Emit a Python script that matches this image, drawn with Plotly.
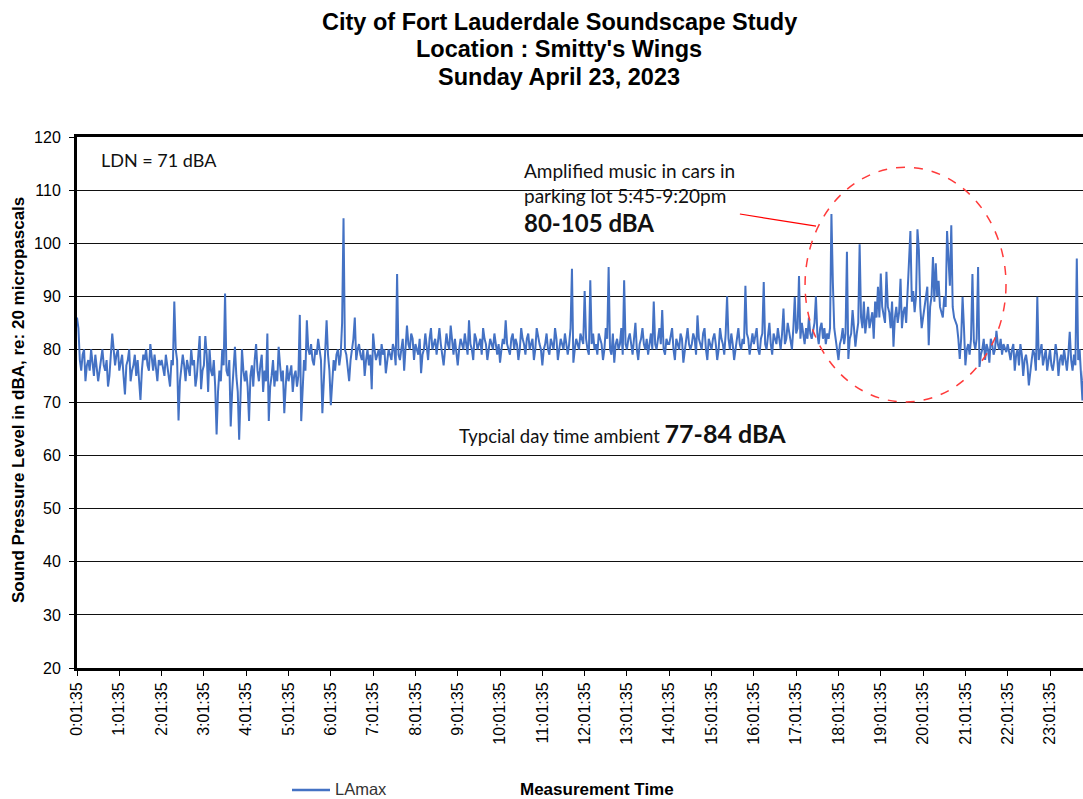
import plotly.graph_objects as go

# ---- data: LAmax readings (dBA), 2-minute steps starting 0:01:35, one row per hour ----
hour_00 = [86, 84, 78, 76, 79, 80, 74, 77, 78, 76, 80, 78, 75, 79, 77, 74, 76, 78, 80, 77, 76, 78, 73, 75, 79, 83, 80, 77, 79, 80]
hour_01 = [76, 78, 79, 75, 71.5, 77, 78, 80, 74, 76, 77, 79, 75, 78, 73, 70.5, 76, 79, 78, 80, 77, 76, 81, 78, 76, 79, 77, 74, 78, 77]
hour_02 = [78, 76, 75, 79, 77, 76, 73, 78, 77, 89, 80, 78, 66.6, 74, 76, 79, 77, 74, 78, 76, 75, 80, 77, 78, 73, 75, 79, 82.5, 72.5, 76]
hour_03 = [77, 82.5, 79, 72, 80, 76, 75, 78, 73, 64, 72, 76, 74, 80, 77, 90.5, 76, 75, 78, 65.5, 72, 77, 80.5, 75, 72, 63, 70, 80, 76, 74]
hour_04 = [76, 73, 66.5, 75, 77, 73, 78, 81, 76, 74, 77, 79, 72, 76, 74, 83, 66.5, 73, 75, 78, 73, 76, 74, 80.5, 77, 74, 76, 68, 73, 77]
hour_05 = [74, 76, 77, 72, 75, 76, 73, 75, 86.5, 66.5, 74, 78, 76, 85.5, 80, 79, 81, 78, 77, 80, 79, 82, 80, 78, 68, 75, 80, 85.5, 79, 76]
hour_06 = [69.5, 74, 78, 76, 79, 80, 77, 79, 85, 104.7, 80, 79, 77, 74, 78, 80, 82, 86, 78, 80, 81, 79, 78, 80, 75, 78, 80, 77, 79, 72.5]
hour_07 = [83, 80, 78, 79, 80, 77, 81, 79, 80, 75.5, 78, 80, 79, 78, 81, 80, 77, 94.2, 79, 78, 80, 82, 76, 80, 84.5, 81, 80, 83, 82, 78]
hour_08 = [81, 80, 79, 82, 75.5, 79, 80, 83, 81, 78, 82, 84, 80, 81, 82, 79, 81, 84, 81, 79, 77, 80, 83, 81, 80, 84.5, 82, 79, 82, 80]
hour_09 = [77, 80, 82, 81, 80, 83, 81, 79, 85.5, 81, 80, 78, 83, 82, 80, 81, 82, 79, 84, 82, 81, 78, 80, 82, 81, 80, 83, 81, 79, 81]
hour_10 = [77.5, 80, 82, 81, 85.5, 81, 80, 79, 82, 83, 80, 82, 81, 78, 80, 84, 82, 81, 79, 82, 83, 80, 81, 82, 78, 80, 84, 82, 81, 80]
hour_11 = [77, 80, 81, 83, 80, 79, 82, 81, 80, 84, 82, 78, 80, 82, 81, 80, 83, 81, 79, 81, 84, 95.2, 77.5, 80, 82, 81, 80, 83, 82, 81]
hour_12 = [91, 82, 80, 79, 93, 81, 83, 80, 81, 79, 83, 82, 81, 78, 80, 84, 82, 95.5, 80, 79, 83, 77.5, 81, 82, 80, 81, 84, 79, 93, 81]
hour_13 = [80, 82, 83, 81, 79, 82, 85, 80, 78, 81, 82, 84, 81, 80, 82, 79, 81, 83, 80, 89, 81, 80, 82, 84, 81, 87.4, 80, 79, 82, 81]
hour_14 = [81, 83, 84, 80, 78, 82, 81, 80, 83, 82, 77.5, 80, 82, 84, 81, 80, 81, 83, 82, 79, 86.4, 82, 81, 80, 83, 84, 80, 78, 82, 81]
hour_15 = [80, 82, 83, 81, 78, 80, 84, 82, 81, 79, 83, 90, 82, 80, 83, 81, 78, 80, 82, 84, 81, 80, 82, 81, 92, 83, 82, 79, 81, 83]
hour_16 = [81, 83, 84, 80, 79, 82, 83, 92.7, 81, 80, 82, 85, 81, 79, 83, 82, 81, 84, 82, 80, 83, 87.7, 81, 82, 85, 83, 81, 80, 84, 89.9]
hour_17 = [83, 84, 93.8, 82, 85, 83, 81, 84, 82, 86, 83, 82, 84, 85, 90, 83, 81, 84, 85, 82, 84, 81, 83, 82, 84, 105.5, 92.7, 84, 82, 80]
hour_18 = [78, 81, 82, 84, 81, 83, 98.4, 78.2, 82, 83, 87.4, 84, 80.5, 83, 85, 99.8, 86, 84, 89, 83, 85, 88, 84, 86, 87, 82, 89, 86, 91.8, 86]
hour_19 = [94.3, 88, 86, 85, 94.6, 88, 87, 84, 89, 80.5, 86, 88, 85, 87, 93.3, 84, 87, 88, 85, 90, 96.5, 102.3, 89, 91, 87, 90, 102.6, 98.7, 88, 84]
hour_20 = [86, 88, 90, 91.8, 80.8, 88, 90, 97.4, 89, 96.2, 90, 92.9, 88, 87.2, 86, 90, 88, 102.3, 98, 92, 103.4, 88, 86, 85, 84.5, 82, 78.2, 82, 89.9, 84]
hour_21 = [77, 80, 81, 79, 82, 94.2, 81.5, 80, 82, 95.5, 76.7, 79, 80, 82, 78, 81, 80, 77.5, 82, 81, 79, 80, 83.5, 81, 80, 82, 79, 81, 80, 79.5]
hour_22 = [81, 79, 78, 80, 81, 76, 79, 80, 77, 81, 79, 75, 78, 79, 77, 73.2, 76, 78, 80, 79, 76, 89.9, 78, 80, 81, 77, 79, 80, 76, 78]
hour_23 = [80, 77, 76, 78, 81, 79, 75, 78, 79, 77, 80, 78, 76, 79, 83.3, 78, 76, 79, 77, 97.1, 78, 80, 76, 70.4, 76]

hour_rows = [hour_00, hour_01, hour_02, hour_03, hour_04, hour_05, hour_06, hour_07,
             hour_08, hour_09, hour_10, hour_11, hour_12, hour_13, hour_14, hour_15,
             hour_16, hour_17, hour_18, hour_19, hour_20, hour_21, hour_22, hour_23]

step_minutes = 2
tick_hours = list(range(24))
tick_labels = [f"{h}:01:35" for h in tick_hours]
y_ticks = [20, 30, 40, 50, 60, 70, 80, 90, 100, 110, 120]

lamax = [v for row in hour_rows for v in row]
t_hours = [i * step_minutes / 60 for i in range(len(lamax))]

FONT = "Liberation Sans, Arial, sans-serif"
NOTE = "Lato, Open Sans, sans-serif"

fig = go.Figure()
fig.add_trace(go.Scatter(x=t_hours, y=lamax, mode="lines", name="LAmax",
                         line=dict(color="#4472C4", width=2), showlegend=False))

fig.update_layout(
    width=1083, height=799,
    margin=dict(l=77, r=0, t=137, b=131, autoexpand=False),
    paper_bgcolor="white", plot_bgcolor="white",
    font=dict(family=FONT, color="#000"),
    showlegend=False,
)
fig.update_xaxes(range=[0, 23.78], tickvals=tick_hours, ticktext=tick_labels,
                 tickangle=-90, tickfont=dict(size=16, family=FONT, color="#000"),
                 showgrid=False, zeroline=False, automargin=False,
                 showline=True, linecolor="#000", linewidth=3, mirror=True,
                 ticks="outside", ticklen=5, tickcolor="#000")
fig.update_yaxes(range=[20, 120], tickvals=y_ticks, automargin=False,
                 tickfont=dict(size=16, family=FONT, color="#000"),
                 showgrid=True, gridcolor="#111", gridwidth=1, zeroline=False,
                 showline=True, linecolor="#000", linewidth=3,
                 ticks="outside", ticklen=5, tickcolor="#000", ticklabelstandoff=5)

def px_to_paper(px, py):
    return (px - 77) / 1006, (668 - py) / 531

def add_text(text, px, py, size, anchor="left", family=NOTE, color="#111", angle=0):
    x, y = px_to_paper(px, py)
    fig.add_annotation(text=text, xref="paper", yref="paper", x=x, y=y, showarrow=False,
                       xanchor=anchor, yanchor="middle", textangle=angle,
                       font=dict(size=size, family=family, color=color))

# titles
add_text("<b>City of Fort Lauderdale Soundscape Study</b>", 559, 22, 23.5, "center", FONT, "#000")
add_text("<b>Location : Smitty's Wings</b>", 559, 49, 23.5, "center", FONT, "#000")
add_text("<b>Sunday April 23, 2023</b>", 559, 77, 23.5, "center", FONT, "#000")

# axis titles
add_text("<b>Sound Pressure Level in dBA, re: 20 micropascals</b>", 18, 400, 17, "center", FONT, "#000", -90)
add_text("<b>Measurement Time</b>", 597, 789, 17, "center", FONT, "#000")

# notes
add_text("LDN = 71 dBA", 99, 160, 18)
add_text("Amplified music in cars in", 522, 170, 19)
add_text("parking lot 5:45-9:20pm", 522, 195, 19)
add_text("<b>80-105 dBA</b>", 522, 222, 24)
add_text("Typcial day time ambient <b><span style='font-size:25px'>77-84 dBA</span></b>", 457, 433, 18.5)

# legend (drawn manually)
lx0, ly = px_to_paper(292, 790)
lx1, _ = px_to_paper(330, 790)
fig.add_shape(type="line", xref="paper", yref="paper", x0=lx0, x1=lx1, y0=ly, y1=ly,
              line=dict(color="#4472C4", width=2.5))
add_text("LAmax", 333, 789, 16.5, "left", FONT, "#333")

# red pointer line and dashed ellipse (in data units)
fig.add_shape(type="line", xref="x", yref="y", x0=15.67, y0=105.5, x1=17.47, y1=103.2,
              line=dict(color="#FF0000", width=1.2))
fig.add_shape(type="circle", xref="x", yref="y", x0=17.21, x1=21.96, y0=70.1, y1=114.3,
              line=dict(color="#FF3B3B", width=1.5, dash="dash"))

fig.write_html("out.html", config={"displayModeBar": False},
               post_script="document.body.style.margin='0';document.body.style.padding='0';")
